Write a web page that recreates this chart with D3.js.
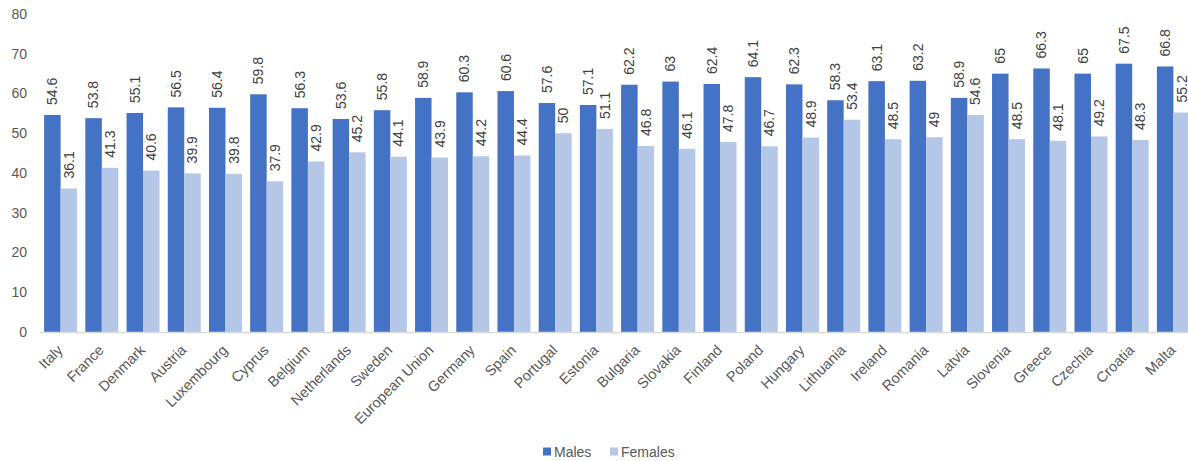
<!DOCTYPE html>
<html>
<head>
<meta charset="utf-8">
<script src="https://cdn.jsdelivr.net/npm/d3@7"></script>
<style>
  html, body { margin: 0; padding: 0; background: #fff; }
  svg { display: block; font-family: "Liberation Sans", Arial, sans-serif; }
</style>
</head>
<body>
<svg id="chart" width="1188" height="461"></svg>
<script>
const countries = ["Italy", "France", "Denmark", "Austria", "Luxembourg", "Cyprus", "Belgium",
  "Netherlands", "Sweden", "European Union", "Germany", "Spain", "Portugal", "Estonia",
  "Bulgaria", "Slovakia", "Finland", "Poland", "Hungary", "Lithuania", "Ireland", "Romania",
  "Latvia", "Slovenia", "Greece", "Czechia", "Croatia", "Malta"];
const males = [54.6, 53.8, 55.1, 56.5, 56.4, 59.8, 56.3, 53.6, 55.8, 58.9, 60.3, 60.6, 57.6, 57.1,
  62.2, 63, 62.4, 64.1, 62.3, 58.3, 63.1, 63.2, 58.9, 65, 66.3, 65, 67.5, 66.8];
const females = [36.1, 41.3, 40.6, 39.9, 39.8, 37.9, 42.9, 45.2, 44.1, 43.9, 44.2, 44.4, 50, 51.1,
  46.8, 46.1, 47.8, 46.7, 48.9, 53.4, 48.5, 49, 54.6, 48.5, 48.1, 49.2, 48.3, 55.2];
const yTicks = [0, 10, 20, 30, 40, 50, 60, 70, 80];
const seriesNames = ["Males", "Females"];
const seriesColors = ["#4472C4", "#B4C7E7"];

const svg = d3.select("#chart");
const plotLeft = 40, plotRight = 1194, plotTop = 14, plotBottom = 332;

const x = d3.scaleBand().domain(countries).range([plotLeft, plotRight]).paddingInner(0.2).paddingOuter(0.1);
const x1 = d3.scaleBand().domain(seriesNames).range([0, x.bandwidth()]);
const y = d3.scaleLinear().domain([0, 80]).range([plotBottom, plotTop]);

const rows = countries.map((c, i) => ({ country: c, values: [males[i], females[i]] }));

// y axis labels
const yAxis = svg.append("g").attr("transform", `translate(${plotLeft},0)`)
  .call(d3.axisLeft(y).tickValues(yTicks).tickSize(0).tickPadding(13));
yAxis.select(".domain").remove();
yAxis.selectAll("text").attr("font-size", 14).attr("fill", "#595959")
  .attr("font-family", "Liberation Sans, Arial, sans-serif");

// bars
const groups = svg.append("g").selectAll("g").data(rows).join("g")
  .attr("transform", d => `translate(${x(d.country)},0)`);

groups.selectAll("rect").data(d => d.values.map((v, k) => ({ v, k })))
  .join("rect")
  .attr("x", d => x1(seriesNames[d.k]))
  .attr("width", x1.bandwidth())
  .attr("y", d => y(d.v))
  .attr("height", d => y(0) - y(d.v))
  .attr("fill", d => seriesColors[d.k]);

// value labels, rotated above each bar
groups.selectAll("text.val").data(d => d.values.map((v, k) => ({ v, k })))
  .join("text")
  .attr("class", "val")
  .attr("transform", d => `translate(${x1(seriesNames[d.k]) + x1.bandwidth() / 2},${y(d.v) - 10}) rotate(-90)`)
  .attr("dy", "0.35em")
  .attr("text-anchor", "start")
  .attr("font-size", 14)
  .attr("fill", "#404040")
  .text(d => d.v);

// x axis
const xAxis = svg.append("g").attr("transform", `translate(0,${plotBottom})`)
  .call(d3.axisBottom(x).tickSize(0).tickPadding(0));
xAxis.select(".domain").attr("stroke", "#d9d9d9").attr("stroke-width", 1.5)
  .attr("d", `M${plotLeft},0.5H${plotRight}`);
xAxis.selectAll("text")
  .attr("font-size", 14.5).attr("fill", "#595959")
  .attr("font-family", "Liberation Sans, Arial, sans-serif")
  .attr("text-anchor", "end")
  .attr("dy", 0).attr("y", 0)
  .attr("transform", "translate(3,19) rotate(-45)");

// legend
const legend = svg.append("g").attr("transform", "translate(543,452)");
const items = [{ name: "Males", x: 0 }, { name: "Females", x: 67 }];
items.forEach((it, i) => {
  legend.append("rect").attr("x", it.x).attr("y", -4.5).attr("width", 8).attr("height", 8)
    .attr("fill", seriesColors[i]);
  legend.append("text").attr("x", it.x + 11).attr("y", 0).attr("dy", "0.35em")
    .attr("font-size", 14).attr("fill", "#595959").text(it.name);
});
</script>
</body>
</html>
